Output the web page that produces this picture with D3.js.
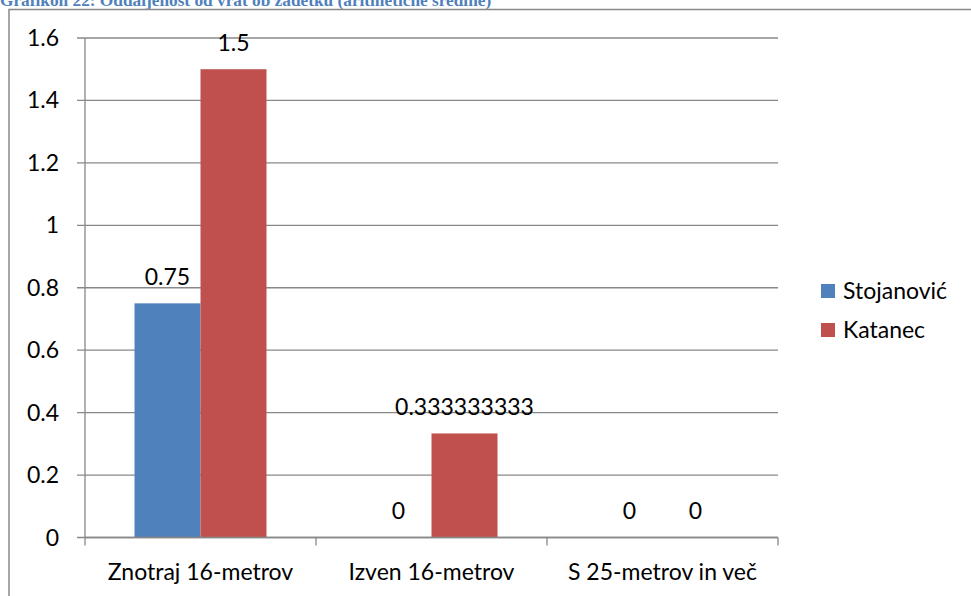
<!DOCTYPE html>
<html>
<head>
<meta charset="utf-8">
<script src="https://cdn.jsdelivr.net/npm/d3@7"></script>
<style>
  html, body { margin: 0; padding: 0; background: #fff; }
  svg { display: block; }
  text { font-family: Lato, "Open Sans", sans-serif; }
</style>
</head>
<body>
<svg id="chart" width="971" height="596"></svg>
<script>
const title = "Grafikon 22: Oddaljenost od vrat ob zadetku (aritmetične sredine)";
const categories = ["Znotraj 16-metrov", "Izven 16-metrov", "S 25-metrov in več"];
const seriesNames = ["Stojanović", "Katanec"];
const stojanovic = [0.75, 0, 0];
const katanec = [1.5, 0.333333333, 0];
const labelsStojanovic = ["0.75", "0", "0"];
const labelsKatanec = ["1.5", "0.333333333", "0"];
const yTicks = [0, 0.2, 0.4, 0.6, 0.8, 1, 1.2, 1.4, 1.6];
const colors = ["#4f81bd", "#c0504d"];

(function () {
const svg = d3.select("#chart");
const gridColor = "#888888";
const fs = "23px";

// Title (partially cut off at the top, as in the reference)
svg.append("text")
  .attr("x", 0).attr("y", 5.5)
  .attr("fill", "#4f81bd")
  .style("font-family", "'Liberation Serif', 'Times New Roman', serif")
  .style("font-weight", "bold")
  .style("font-size", "17.3px")
  .text(title);

// Chart border
svg.append("rect")
  .attr("x", 9).attr("y", 9.5).attr("width", 1200).attr("height", 1200)
  .attr("fill", "none").attr("stroke", gridColor).attr("stroke-width", 1.5);

const pLeft = 85, pRight = 778, pTop = 38, pBottom = 537.5;
const y = d3.scaleLinear().domain([0, 1.6]).range([pBottom, pTop]);
const x0 = d3.scaleBand().domain(categories).range([pLeft, pRight]).paddingInner(0).paddingOuter(0);
const inner = 132 / 231;
const x1 = d3.scaleBand().domain(seriesNames).range([0, x0.bandwidth() * inner]);
const groupOffset = x0.bandwidth() * (1 - inner) / 2;

// Gridlines
svg.append("g").selectAll("line").data(yTicks).join("line")
  .attr("x1", pLeft - 8).attr("x2", pRight)
  .attr("y1", d => y(d)).attr("y2", d => y(d))
  .attr("stroke", gridColor).attr("stroke-width", 1.3);

// Y axis line
svg.append("line")
  .attr("x1", pLeft).attr("x2", pLeft).attr("y1", pTop).attr("y2", pBottom)
  .attr("stroke", gridColor).attr("stroke-width", 1.3);

// Y tick labels
svg.append("g").selectAll("text").data(yTicks).join("text")
  .attr("x", 59).attr("y", d => y(d) + 8)
  .attr("text-anchor", "end")
  .style("font-size", fs).attr("fill", "#000")
  .text(d => String(d));

// Bars
const data = [stojanovic, katanec];
const labels = [labelsStojanovic, labelsKatanec];
seriesNames.forEach((s, si) => {
  const g = svg.append("g");
  g.selectAll("rect").data(categories).join("rect")
    .attr("x", c => x0(c) + groupOffset + x1(s))
    .attr("width", x1.bandwidth())
    .attr("y", (c, i) => y(data[si][i]))
    .attr("height", (c, i) => pBottom - y(data[si][i]))
    .attr("fill", colors[si]);
  g.selectAll("text").data(categories).join("text")
    .attr("x", c => x0(c) + groupOffset + x1(s) + x1.bandwidth() / 2)
    .attr("y", (c, i) => y(data[si][i]) - 18.5)
    .attr("text-anchor", "middle")
    .style("font-size", fs).attr("fill", "#000")
    .text((c, i) => labels[si][i]);
});

// X axis line and ticks
svg.append("line")
  .attr("x1", pLeft).attr("x2", pRight).attr("y1", pBottom).attr("y2", pBottom)
  .attr("stroke", gridColor).attr("stroke-width", 1.3);
const tickXs = categories.map(c => x0(c)).concat([pRight]);
svg.append("g").selectAll("line").data(tickXs).join("line")
  .attr("x1", d => d).attr("x2", d => d)
  .attr("y1", pBottom).attr("y2", pBottom + 8)
  .attr("stroke", gridColor).attr("stroke-width", 1.3);

// X labels
svg.append("g").selectAll("text").data(categories).join("text")
  .attr("x", c => x0(c) + x0.bandwidth() / 2)
  .attr("y", 580)
  .attr("text-anchor", "middle")
  .style("font-size", fs).attr("fill", "#000")
  .text(c => c);

// Legend
const legend = svg.append("g");
seriesNames.forEach((s, i) => {
  const ly = 299 + i * 39;
  legend.append("rect")
    .attr("x", 821).attr("y", ly - 15).attr("width", 14).attr("height", 14)
    .attr("fill", colors[i]);
  legend.append("text")
    .attr("x", 843).attr("y", ly)
    .style("font-size", fs).attr("fill", "#000")
    .text(s);
});
})();
</script>
</body>
</html>
